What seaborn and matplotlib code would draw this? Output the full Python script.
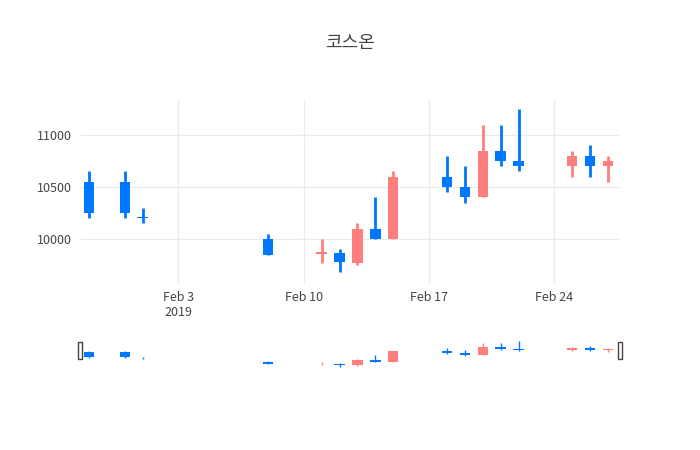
import matplotlib
matplotlib.use("Agg")
import matplotlib.pyplot as plt
import matplotlib.dates as mdates
import numpy as np
import pandas as pd
import seaborn as sns

dates = ["2019-01-29", "2019-01-31", "2019-02-01", "2019-02-08", "2019-02-11", "2019-02-12",
         "2019-02-13", "2019-02-14", "2019-02-15", "2019-02-18", "2019-02-19", "2019-02-20",
         "2019-02-21", "2019-02-22", "2019-02-25", "2019-02-26", "2019-02-27"]
opens = [10550, 10550, 10200, 10000, 9860, 9870, 9770, 10100, 10000, 10600, 10500, 10400,
         10850, 10750, 10700, 10800, 10700]
highs = [10650, 10650, 10300, 10050, 10000, 9900, 10150, 10400, 10650, 10800, 10700, 11100,
         11100, 11250, 10850, 10900, 10800]
lows = [10200, 10200, 10150, 9850, 9770, 9680, 9750, 10000, 10000, 10450, 10350, 10400,
        10700, 10650, 10600, 10600, 10550]
closes = [10250, 10250, 10200, 9850, 9865, 9780, 10100, 10000, 10600, 10500, 10400, 10850,
          10750, 10700, 10800, 10700, 10750]

df = pd.DataFrame({"date": pd.to_datetime(dates), "open": opens, "high": highs,
                   "low": lows, "close": closes})
df["x"] = mdates.date2num(df["date"])
up = df["close"] > df["open"]
df["color"] = np.where(up, "#ff7f7f", "#0077ff")

sns.set_theme(style="whitegrid")
plt.rcParams["font.family"] = ["Noto Sans CJK KR", "DejaVu Sans"]

fig = plt.figure(figsize=(7, 4.5), dpi=100)
ax = fig.add_axes([80 / 700, 167 / 450, 540 / 700, 183 / 450])
sl = fig.add_axes([80 / 700, 80 / 450, 540 / 700, 32 / 450])

xmin = mdates.date2num(pd.Timestamp("2019-01-28 12:00"))
xmax = mdates.date2num(pd.Timestamp("2019-02-27 16:00"))


def draw(a, lw):
    a.vlines(df["x"], df["low"], df["high"], colors=df["color"], linewidth=lw, zorder=2)
    body = (df["close"] - df["open"]).abs().clip(lower=12)
    bottom = df[["open", "close"]].min(axis=1)
    a.bar(df["x"], body, bottom=bottom, width=0.58, color=df["color"], linewidth=0, zorder=3)
    a.set_xlim(xmin, xmax)


draw(ax, 2)
ax.set_ylim(9577, 11337)
ax.set_yticks([10000, 10500, 11000])
ax.set_yticklabels(["10000", "10500", "11000"])
ticks = pd.to_datetime(["2019-02-03", "2019-02-10", "2019-02-17", "2019-02-24"])
ax.set_xticks(mdates.date2num(ticks))
ax.set_xticklabels(["Feb 3\n2019", "Feb 10", "Feb 17", "Feb 24"])
ax.grid(color="#ebebeb", linewidth=0.8)
ax.tick_params(axis="both", colors="#444444", labelsize=9, length=0, pad=6)
for s in ax.spines.values():
    s.set_visible(False)
ax.set_facecolor("white")

draw(sl, 1)
sl.set_ylim(9500, 11400)
sl.axis("off")
for xx in (xmin, xmax):
    sl.plot([xx, xx], [9500, 11400], color="white", linewidth=0)
    sl.add_patch(plt.Rectangle((xx - 0.1, 10150), 0.2, 1000, facecolor="white",
                               edgecolor="#444444", linewidth=1, zorder=5, clip_on=False))

fig.suptitle("코스온", y=1 - 43 / 450, va="center", fontsize=13, color="#444444")
fig.savefig("out.png", dpi=100)
